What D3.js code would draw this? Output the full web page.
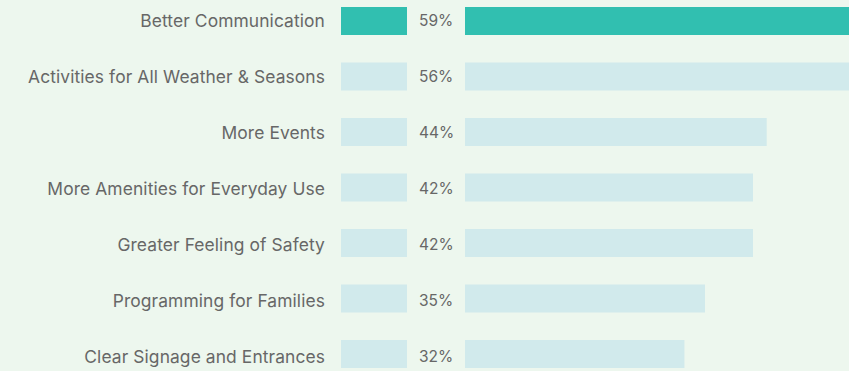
<!DOCTYPE html>
<html>
<head>
<meta charset="utf-8">
<script src="https://cdn.jsdelivr.net/npm/d3@7"></script>
<style>
  html, body { margin: 0; padding: 0; background: #edf7ee; overflow: hidden; }
  svg { display: block; }
  text { font-family: Inter, "Open Sans", sans-serif; fill: #676767; }
</style>
</head>
<body>
<svg id="chart" width="849" height="371"></svg>
<script>
const categories = [
  "Better Communication",
  "Activities for All Weather & Seasons",
  "More Events",
  "More Amenities for Everyday Use",
  "Greater Feeling of Safety",
  "Programming for Families",
  "Clear Signage and Entrances"
];
const values = [59, 56, 44, 42, 42, 35, 32];
const highlighted = ["Better Communication"];

const rows = categories.map((c, i) => ({ name: c, value: values[i] }));

const svg = d3.select("#chart");

// bar rows
const step = 55.5, bandH = 28;
const pad = (step - bandH) / step;
const y = d3.scaleBand()
  .domain(categories)
  .range([7 - (step - bandH) / 2, 7 - (step - bandH) / 2 + categories.length * step])
  .paddingInner(pad)
  .paddingOuter(pad / 2);

// text rows (centre lines)
const yText = d3.scalePoint()
  .domain(categories)
  .range([20.3, 20.3 + (categories.length - 1) * 56]);

const barX0 = 465;
const x = d3.scaleLinear().domain([0, 56]).range([barX0, 849]);

const colorOn = "#31bfb0", colorOff = "#d1eaec";
const fill = d => highlighted.includes(d.name) ? colorOn : colorOff;

const g = svg.append("g");

// category labels
g.selectAll("text.label").data(rows).join("text")
  .attr("class", "label")
  .attr("x", 325)
  .attr("y", d => yText(d.name))
  .attr("dy", "0.37em")
  .attr("text-anchor", "end")
  .style("font-size", "17.4px")
  .style("letter-spacing", "0.1px")
  .text(d => d.name);

// swatches
g.selectAll("rect.swatch").data(rows).join("rect")
  .attr("class", "swatch")
  .attr("x", 341)
  .attr("y", d => y(d.name))
  .attr("width", 66)
  .attr("height", y.bandwidth())
  .attr("fill", fill);

// percent values
g.selectAll("text.value").data(rows).join("text")
  .attr("class", "value")
  .attr("x", 419)
  .attr("y", d => yText(d.name))
  .attr("dy", "0.37em")
  .style("font-size", "15.5px")
  .text(d => d.value + "%");

// bars
g.selectAll("rect.bar").data(rows).join("rect")
  .attr("class", "bar")
  .attr("x", x(0))
  .attr("y", d => y(d.name))
  .attr("width", d => x(d.value) - x(0))
  .attr("height", y.bandwidth())
  .attr("fill", fill);
</script>
</body>
</html>
